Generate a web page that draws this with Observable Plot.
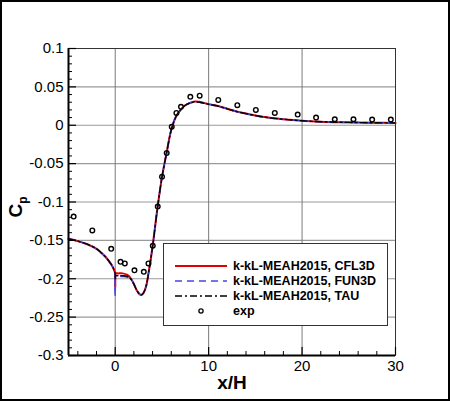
<!DOCTYPE html>
<html><head><meta charset="utf-8">
<script src="https://cdn.jsdelivr.net/npm/d3@7"></script>
<script src="https://cdn.jsdelivr.net/npm/@observablehq/plot@0.6"></script>
<style>
html,body{margin:0;padding:0;background:#fff;}
#chart{position:relative;width:450px;height:401px;}
</style></head><body><div id="chart"></div>
<script>
// ---- axis ticks ----
const xMajor = [0, 10, 20, 30];
const xMinor = [-4, -2, 2, 4, 6, 8, 12, 14, 16, 18, 22, 24, 26, 28];
const xGrid = [0, 10, 20];
const yMajor = [-0.3, -0.25, -0.2, -0.15, -0.1, -0.05, 0, 0.05, 0.1];
const yLabels = ["-0.3", "-0.25", "-0.2", "-0.15", "-0.1", "-0.05", "0", "0.05", "0.1"];
const yMinor = [-0.29, -0.28, -0.27, -0.26, -0.24, -0.23, -0.22, -0.21, -0.19, -0.18, -0.17, -0.16,
  -0.14, -0.13, -0.12, -0.11, -0.09, -0.08, -0.07, -0.06, -0.04, -0.03, -0.02, -0.01,
  0.01, 0.02, 0.03, 0.04, 0.06, 0.07, 0.08, 0.09];
const yGrid = [-0.25, -0.2, -0.15, -0.1, -0.05, 0, 0.05];

// ---- CFD series ----
const cfdX = [-5, -4, -3, -2, -1.5, -1, -0.5, -0.25, -0.05, 0, 0, 0.05, 0.3, 0.8, 1.3, 1.7, 2.0, 2.3, 2.6, 2.8, 3.0, 3.3, 3.6,
  4.0, 4.5, 5.0, 5.5, 6.0, 6.5, 7.0, 7.5, 8.0, 8.5, 9.0, 10, 11, 12, 13, 14, 15, 16, 17, 18, 19, 20, 22, 24, 26, 28, 30];
const cfl3dY = [-0.148, -0.151, -0.155, -0.161, -0.166, -0.172, -0.180, -0.185, -0.191, -0.194, -0.211, -0.193, -0.193, -0.193, -0.195, -0.200,
  -0.207, -0.215, -0.220, -0.221, -0.219, -0.210, -0.190, -0.158, -0.110, -0.068, -0.036, -0.006, 0.011, 0.020, 0.026, 0.029, 0.031, 0.0305,
  0.0275, 0.025, 0.0215, 0.018, 0.0152, 0.0128, 0.0107, 0.009, 0.0078, 0.0068, 0.0058, 0.0046, 0.0039, 0.0035, 0.0032, 0.003];
const fun3dY = [-0.148, -0.151, -0.155, -0.161, -0.166, -0.172, -0.180, -0.185, -0.191, -0.194, -0.222, -0.197, -0.197, -0.197, -0.198, -0.201,
  -0.207, -0.215, -0.220, -0.221, -0.219, -0.210, -0.190, -0.158, -0.110, -0.068, -0.036, -0.006, 0.011, 0.020, 0.026, 0.029, 0.0305, 0.030,
  0.0272, 0.0248, 0.0213, 0.0178, 0.015, 0.0127, 0.0106, 0.009, 0.0078, 0.0068, 0.0058, 0.0046, 0.0039, 0.0035, 0.0032, 0.003];
const tauY = [-0.148, -0.151, -0.155, -0.161, -0.166, -0.172, -0.180, -0.185, -0.191, -0.194, -0.200, -0.196, -0.196, -0.196, -0.197, -0.201,
  -0.207, -0.215, -0.220, -0.221, -0.219, -0.210, -0.190, -0.158, -0.110, -0.068, -0.036, -0.006, 0.011, 0.020, 0.026, 0.029, 0.0305, 0.030,
  0.0273, 0.0249, 0.0214, 0.0179, 0.0151, 0.0127, 0.0106, 0.009, 0.0078, 0.0068, 0.0058, 0.0046, 0.0039, 0.0035, 0.0032, 0.003];

// ---- experiment ----
const expX = [-4.45, -2.45, -0.43, 0.57, 1.03, 2.06, 3.06, 3.56, 4.02, 4.55, 5.01, 5.51, 6.05, 6.55, 7.04, 8.04, 9.04,
  11.03, 13.07, 15.05, 17.08, 19.53, 21.5, 23.5, 25.5, 27.5, 29.5];
const expY = [-0.119, -0.137, -0.161, -0.178, -0.180, -0.189, -0.191, -0.180, -0.157, -0.106, -0.067, -0.036, -0.002, 0.016, 0.024, 0.037, 0.0385,
  0.033, 0.0262, 0.020, 0.016, 0.0139, 0.010, 0.0078, 0.0078, 0.0074, 0.0074];

const legendLabels = ["k-kL-MEAH2015, CFL3D", "k-kL-MEAH2015, FUN3D", "k-kL-MEAH2015, TAU", "exp"];

const zip = (xs, ys) => xs.map((x, i) => ({x, y: ys[i]}));
const cfl3d = zip(cfdX, cfl3dY), fun3d = zip(cfdX, fun3dY), tau = zip(cfdX, tauY), exp = zip(expX, expY);

const W = 450, H = 401, mL = 68, mR = 55, mT = 48, mB = 46;
const pW = W - mL - mR, pH = H - mT - mB;

const plot = Plot.plot({
  width: W, height: H, marginLeft: mL, marginRight: mR, marginTop: mT, marginBottom: mB,
  style: {fontFamily: "'Liberation Sans', Arial, Helvetica, sans-serif", fontSize: "15px", background: "white", color: "black"},
  x: {domain: [-5, 30], ticks: xMajor, tickSize: 0, tickPadding: 5, tickFormat: d => String(d), label: null},
  y: {domain: [-0.3, 0.1], ticks: yMajor, tickSize: 0, tickPadding: 5, tickFormat: d => yLabels[yMajor.indexOf(d)], label: null},
  marks: [
    Plot.ruleY(yGrid, {y: d => d, stroke: "#9a9a9a", strokeWidth: 1.2}),
    Plot.ruleX(xGrid, {x: d => d, stroke: "#7a7a7a", strokeWidth: 1}),
    Plot.line(cfl3d, {x: "x", y: "y", stroke: "#e00000", strokeWidth: 2, curve: "catmull-rom"}),
    Plot.line(fun3d, {x: "x", y: "y", stroke: "#4646e6", strokeWidth: 1.6, strokeDasharray: "7,5", curve: "catmull-rom"}),
    Plot.line(tau, {x: "x", y: "y", stroke: "black", strokeWidth: 1.4, strokeDasharray: "7,3,2,3", curve: "catmull-rom"}),
    Plot.dot(exp, {x: "x", y: "y", r: 2.3, stroke: "black", strokeWidth: 1.4, fill: "none"}),
    Plot.frame({stroke: "#333", strokeWidth: 1}),
    Plot.ruleX([-5], {x: d => d, stroke: "black", strokeWidth: 2}),
    Plot.ruleY([-0.3], {y: d => d, stroke: "black", strokeWidth: 2}),
    Plot.tickX(xMajor, {x: d => d, insetTop: pH - 8, stroke: "black", strokeWidth: 1.2}),
    Plot.tickX(xMinor, {x: d => d, insetTop: pH - 4, stroke: "black", strokeWidth: 1}),
    Plot.tickY(yMajor, {y: d => d, insetRight: pW - 8, stroke: "black", strokeWidth: 1.2}),
    Plot.tickY(yMinor, {y: d => d, insetRight: pW - 4, stroke: "black", strokeWidth: 1}),
    Plot.text(["x/H"], {frameAnchor: "bottom", dy: 27, text: d => d, fontWeight: "bold", fontSize: 19, lineAnchor: "middle"})
  ]
});
document.getElementById("chart").appendChild(plot);

const svg = d3.select(plot);
// y-axis label C_p
const cp = svg.append("text")
  .attr("transform", "translate(22,207) rotate(-90)")
  .attr("text-anchor", "middle")
  .attr("font-family", "'Liberation Sans', Arial, sans-serif")
  .attr("font-weight", "bold").attr("font-size", 19).attr("fill", "black");
cp.append("tspan").text("C");
cp.append("tspan").attr("font-size", 12).attr("dy", 5).text("p");

// legend
const lg = svg.append("g");
lg.append("rect").attr("x", 163.5).attr("y", 243.5).attr("width", 224).attr("height", 82)
  .attr("fill", "white").attr("stroke", "#333").attr("stroke-width", 1);
const rowsY = [266, 281, 296, 311];
const styles = [
  {stroke: "#e00000", w: 2, dash: null},
  {stroke: "#4646e6", w: 1.6, dash: "7,5"},
  {stroke: "black", w: 1.4, dash: "7,3,2,3"}
];
styles.forEach((s, i) => {
  const l = lg.append("line").attr("x1", 175).attr("x2", 227).attr("y1", rowsY[i]).attr("y2", rowsY[i])
    .attr("stroke", s.stroke).attr("stroke-width", s.w);
  if (s.dash) l.attr("stroke-dasharray", s.dash);
});
lg.append("circle").attr("cx", 201).attr("cy", rowsY[3]).attr("r", 2.1).attr("fill", "none").attr("stroke", "black").attr("stroke-width", 1.3);
legendLabels.forEach((t, i) => {
  lg.append("text").attr("x", 233).attr("y", rowsY[i]).attr("dy", "0.35em")
    .attr("text-anchor", "start")
    .attr("font-family", "'Liberation Sans', Arial, sans-serif").attr("font-weight", "bold")
    .attr("font-size", 12.5).attr("fill", "black").text(t);
});
// outer border
svg.append("rect").attr("x", 1).attr("y", 1).attr("width", W - 2).attr("height", H - 2)
  .attr("fill", "none").attr("stroke", "black").attr("stroke-width", 2);
</script>
</body></html>
